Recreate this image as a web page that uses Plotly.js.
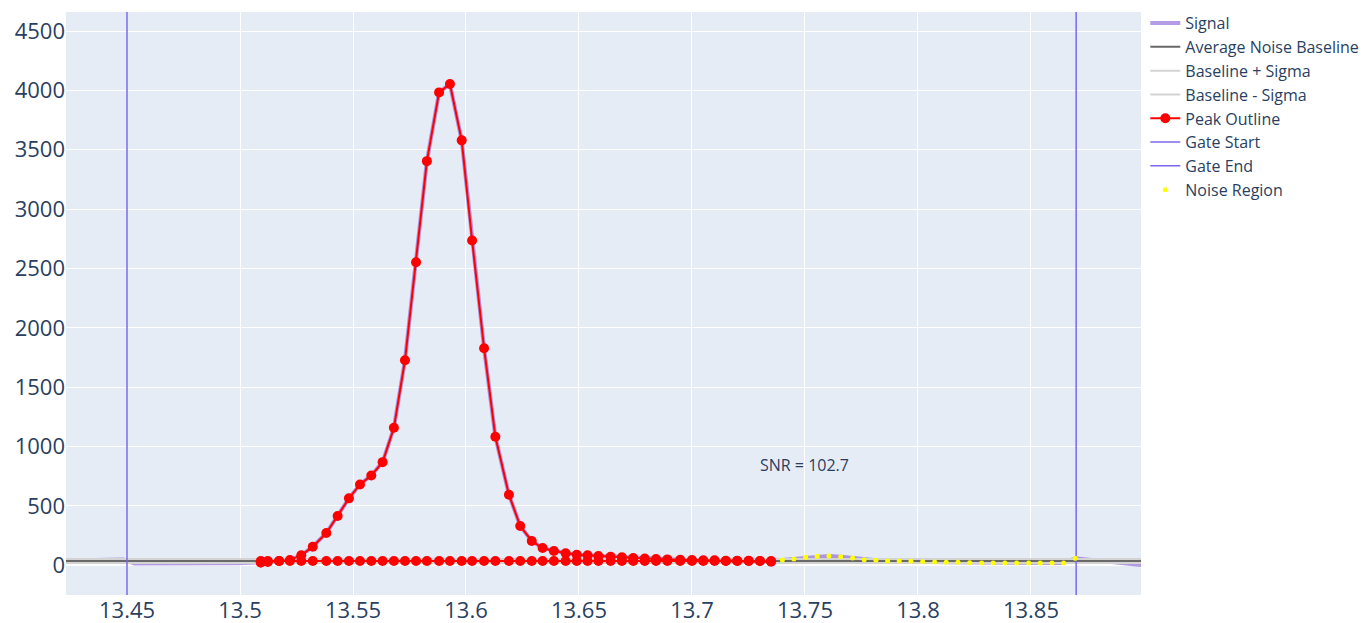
<!DOCTYPE html>
<html>
<head>
<meta charset="utf-8">
<script src="https://cdn.plot.ly/plotly-3.0.1.min.js"></script>
<style>html,body{margin:0;padding:0;background:#fff;}#chart{width:1366px;height:623px;}</style>
</head>
<body>
<div id="chart"></div>
<script>
// Signal before the peak
const preX = [13.4229, 13.4280, 13.4331, 13.4381, 13.4432, 13.4483, 13.4533, 13.4584, 13.4635, 13.4686, 13.4736, 13.4787, 13.4838, 13.4888, 13.4939, 13.4990, 13.5040];
const preY = [40, 41, 42, 42, 44, 48, 16, 15, 15, 16, 16, 15, 16, 17, 17, 18, 20];
// Peak region (signal samples inside the outline)
const peakX = [13.5092, 13.5123, 13.5173, 13.5221, 13.5271, 13.5322, 13.5382, 13.5432, 13.5482, 13.5531, 13.5581, 13.5631, 13.5681, 13.5730, 13.5779, 13.5827, 13.5881, 13.5929, 13.5981, 13.6027, 13.6080, 13.6130, 13.6190, 13.6240, 13.6291, 13.6339, 13.6389, 13.6441, 13.6490, 13.6538, 13.6586, 13.6640, 13.6690, 13.6740, 13.6791, 13.6841, 13.6891, 13.6948, 13.7000, 13.7050, 13.7100, 13.7150, 13.7200, 13.7251, 13.7301, 13.7350];
const peakY = [23, 28, 36, 45, 84, 157, 272, 415, 564, 681, 757, 869, 1158, 1727, 2552, 3404, 3983, 4053, 3579, 2736, 1828, 1083, 595, 331, 205, 146, 120, 101, 89, 84, 78, 72, 67, 62, 57, 53, 50, 47, 45, 42, 42, 39, 39, 38, 37, 30];
// Noise region samples
const noiseX = [13.7400, 13.7451, 13.7503, 13.7554, 13.7606, 13.7658, 13.7711, 13.7762, 13.7814, 13.7866, 13.7917, 13.7969, 13.8021, 13.8074, 13.8125, 13.8177, 13.8229, 13.8282, 13.8333, 13.8385, 13.8437, 13.8490, 13.8541, 13.8593, 13.8645, 13.8696];
const noiseY = [45, 53, 67, 76, 78, 73, 62, 47, 42, 36, 36, 34, 30, 28, 25, 25, 22, 19, 19, 19, 19, 19, 19, 19, 19, 59];
// Signal after the gate end
const postX = [13.8749, 13.8800, 13.8852, 13.8903, 13.8955, 13.8987];
const postY = [47, 38, 28, 18, 8, 2];

const baselineValue = 36;
const sigmaValue = 17;
const gateStart = 13.45;
const gateEnd = 13.87;
const snrText = 'SNR = 102.7';
const snrX = 13.75;
const snrY = 845;

const xRange = [13.4230, 13.8987];
const yRange = [-250, 4660];

const sigX = preX.concat(peakX, noiseX, postX);
const sigY = preY.concat(peakY, noiseY, postY);

// Outline: along the signal, then back along the baseline
const outX = peakX.concat(peakX.slice().reverse(), [peakX[0]]);
const outY = peakY.concat(peakX.map(() => baselineValue), [peakY[0]]);

const xEnds = [sigX[0], sigX[sigX.length - 1]];

const traces = [
  {x: sigX, y: sigY, mode: 'lines', name: 'Signal', line: {color: 'mediumpurple', width: 4}, opacity: 0.7},
  {x: xEnds, y: [baselineValue, baselineValue], mode: 'lines', name: 'Average Noise Baseline', line: {color: 'dimgray', width: 2}},
  {x: xEnds, y: [baselineValue + sigmaValue, baselineValue + sigmaValue], mode: 'lines', name: 'Baseline + Sigma', line: {color: 'lightgray', width: 2}},
  {x: xEnds, y: [baselineValue - sigmaValue, baselineValue - sigmaValue], mode: 'lines', name: 'Baseline - Sigma', line: {color: 'lightgray', width: 2}},
  {x: outX, y: outY, mode: 'lines+markers', name: 'Peak Outline', line: {color: 'red', width: 2}, marker: {color: 'red', size: 10}},
  {x: [gateStart, gateStart], y: [yRange[0] - 100, yRange[1] + 100], mode: 'lines', name: 'Gate Start', line: {color: 'mediumslateblue', width: 1.5}},
  {x: [gateEnd, gateEnd], y: [yRange[0] - 100, yRange[1] + 100], mode: 'lines', name: 'Gate End', line: {color: 'mediumslateblue', width: 1.5}},
  {x: noiseX, y: noiseY, mode: 'markers', name: 'Noise Region', marker: {color: 'yellow', size: 5}}
];

const layout = {
  width: 1366, height: 623,
  margin: {l: 66, r: 225, t: 12, b: 28, autoexpand: false},
  paper_bgcolor: '#fff',
  plot_bgcolor: '#E5ECF6',
  font: {family: '"Open Sans", verdana, arial, sans-serif', color: '#2a3f5f'},
  showlegend: true,
  legend: {font: {size: 16}, x: 1.004, y: 1.01, xanchor: 'left', yanchor: 'top'},
  xaxis: {range: xRange, tickfont: {size: 22}, gridcolor: 'white', zerolinecolor: 'white', zerolinewidth: 2, ticks: '', dtick: 0.05},
  yaxis: {range: yRange, tickfont: {size: 22}, gridcolor: 'white', zerolinecolor: 'white', zerolinewidth: 2, ticks: '', dtick: 500},
  annotations: [{x: snrX, y: snrY, text: snrText, showarrow: false, font: {size: 16, color: '#2a3f5f'}}]
};

Plotly.newPlot('chart', traces, layout, {displayModeBar: false});
</script>
</body>
</html>
